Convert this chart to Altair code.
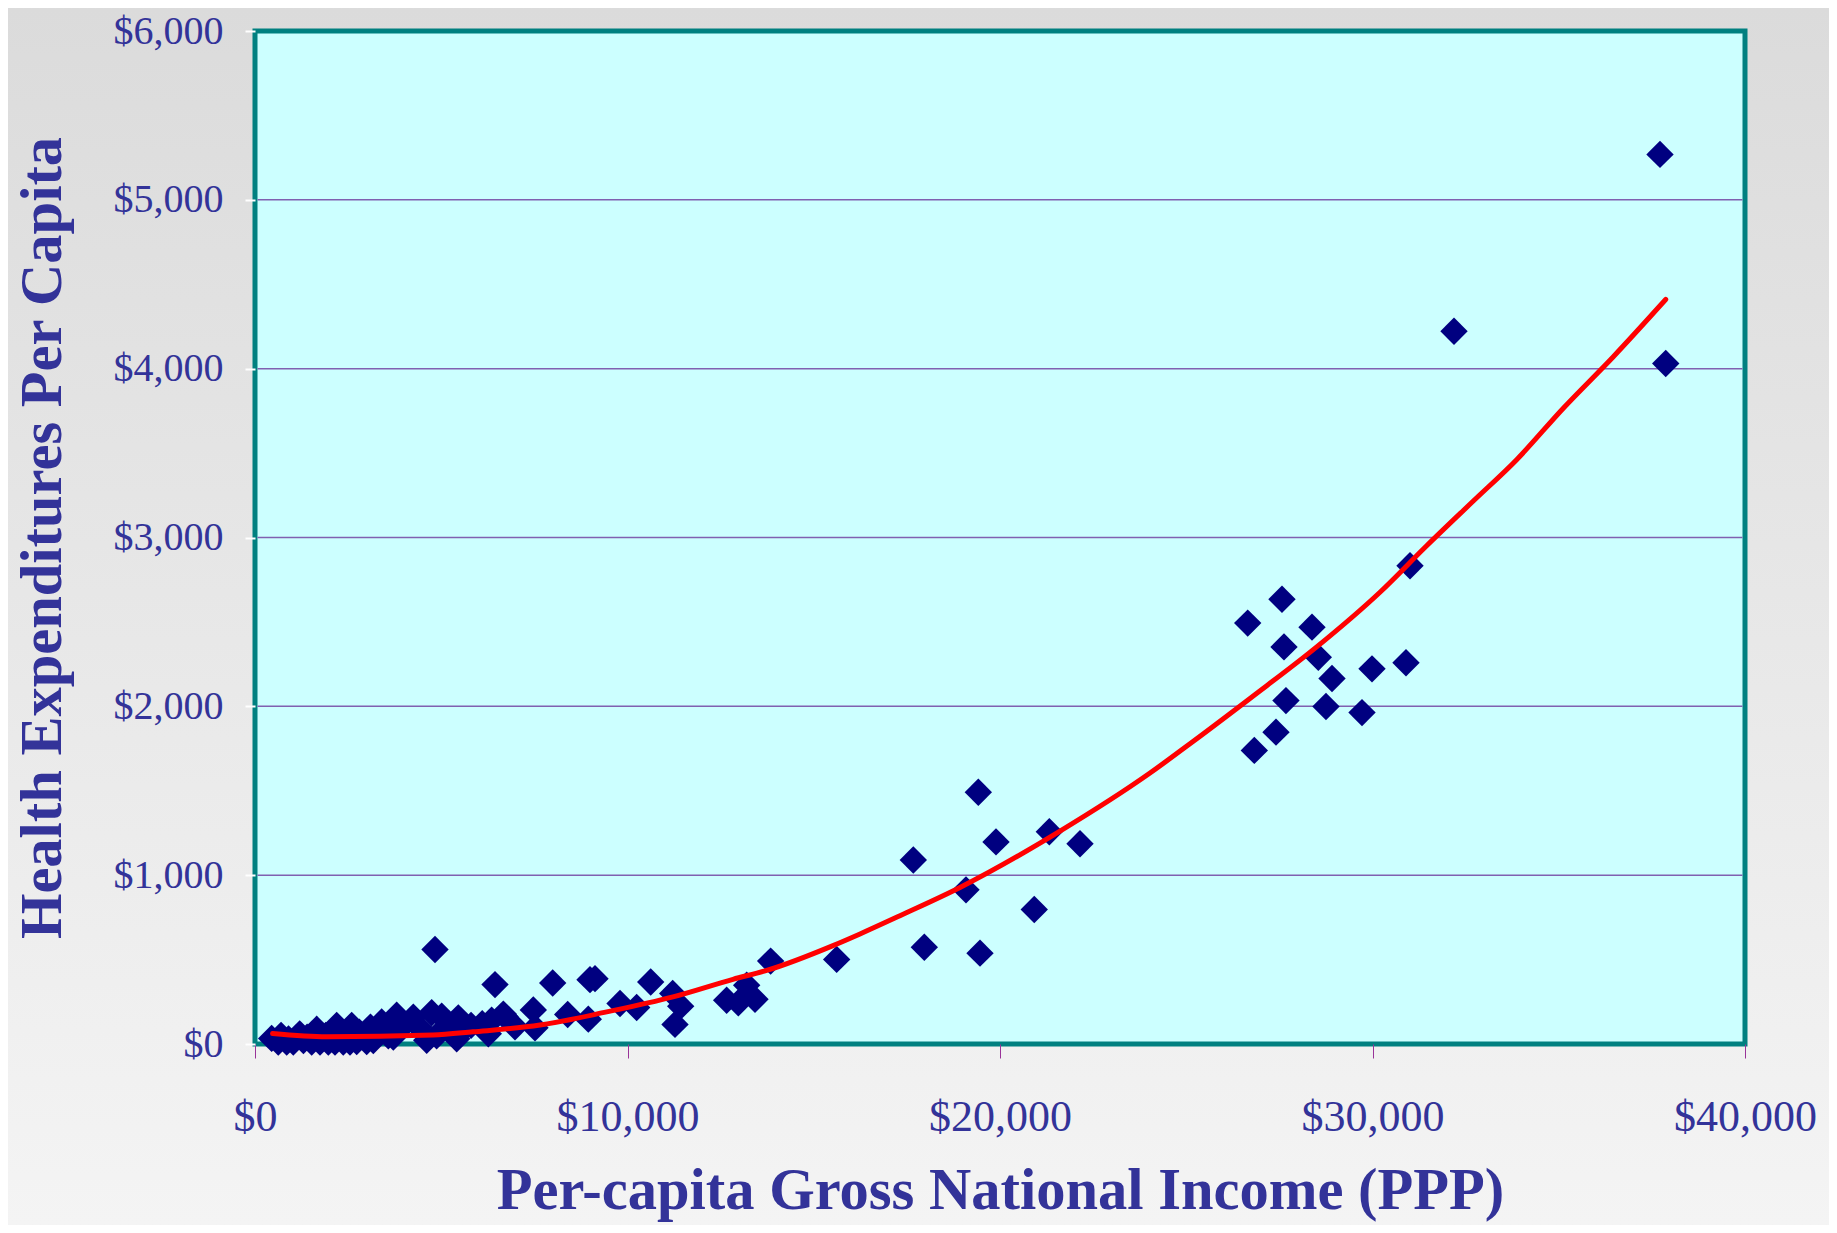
import altair as alt
import pandas as pd

# ---- data ----
gni = [447, 625, 700, 851, 900, 1028, 1200, 1300, 1400, 1522, 1656, 1745, 1900, 1968, 2148, 2193, 2370, 2400,
       2550, 2596, 2730, 2800, 2998, 3100, 3176, 3300, 3400, 3579, 3713, 3803, 3900, 4000, 4250, 4400, 4610,
       4743, 4832, 4876, 5012, 5200, 5415, 5458, 5600, 5800, 6100, 6264, 6353, 6443, 6666, 6711, 6980, 7472,
       7517, 7992, 8394, 8948, 8993, 9128, 9799, 10246, 10623, 11213, 11275, 11428, 12662, 12975, 13199,
       13423, 13843, 15615, 17673, 17968, 19087, 19418, 19463, 19893, 20920, 21324, 22148, 26650, 26827,
       27409, 27570, 27624, 27677, 28376, 28545, 28751, 28913, 29718, 29987, 30899, 31007, 32188, 37718,
       37872]
health = [33, 12, 50, 12, 30, 12, 60, 20, 40, 12, 87, 12, 50, 12, 12, 110, 12, 60,
          12, 110, 15, 70, 15, 100, 20, 80, 130, 49, 41, 171, 90, 120, 159, 100, 22,
          185, 560, 49, 165, 120, 31, 155, 90, 110, 120, 61, 141, 352, 177, 163, 102, 202,
          96, 361, 175, 147, 381, 387, 240, 216, 367, 299, 116, 224, 259, 244, 348,
          265, 491, 501, 1090, 573, 913, 1491, 538, 1197, 797, 1257, 1186, 2493, 1739,
          1847, 2634, 2352, 2034, 2469, 2291, 1999, 2165, 1963, 2222, 2258, 2833, 4222, 5269,
          4031]

trend_x = [472, 1925, 4779, 5852, 7651, 9442, 11221, 12832, 13737, 15517, 16242, 17315, 18926, 21611,
           24027, 25181, 26711, 28502, 30201, 31454, 32706, 33870, 35122, 36465, 37872]
trend_y = [62, 43, 53, 72, 112, 190, 279, 383, 436, 583, 652, 760, 927, 1261,
           1605, 1792, 2047, 2352, 2676, 2951, 3216, 3461, 3766, 4071, 4410]

y_ticks = [0, 1000, 2000, 3000, 4000, 5000, 6000]
x_ticks = [0, 10000, 20000, 30000, 40000]
grid_values = [1000, 2000, 3000, 4000, 5000]

x_title = "Per-capita Gross National Income (PPP)"
y_title = "Health Expenditures Per Capita"

W, H = 1490, 1013
PAD = {"left": 247, "top": 23, "right": 84, "bottom": 181}
FONT = "Liberation Serif"
TXT = "#333399"

pts = pd.DataFrame({"gni": gni, "health": health})
trend = pd.DataFrame({"gni": trend_x, "health": trend_y})
grid = pd.DataFrame({"v": grid_values})
one = alt.Data(values=[{"a": 1}])

xscale = alt.Scale(domain=[0, 40000], nice=False, zero=True)
yscale = alt.Scale(domain=[0, 6000], nice=False, zero=True)

x_axis = alt.Axis(values=x_ticks, format="$,.0f", title=x_title, grid=False, domain=False,
                  tickColor="#993399", tickSize=14, tickWidth=1,
                  labelFont=FONT, labelFontSize=44, labelColor=TXT, labelPadding=37,
                  labelBaseline="top", labelFlush=False,
                  titleFont=FONT, titleFontSize=58.5, titleFontWeight="bold", titleColor=TXT,
                  titleX=W / 2, titleY=164, titleBaseline="alphabetic", titleAlign="center",
                  zindex=2)
y_axis = alt.Axis(values=y_ticks, format="$,.0f", title=y_title, grid=False, domain=False,
                  tickColor="#ffffff", tickSize=10, tickWidth=2,
                  labelFont=FONT, labelFontSize=40, labelColor=TXT, labelPadding=22,
                  labelBaseline="middle", labelFlush=False,
                  titleFont=FONT, titleFontSize=58.5, titleFontWeight="bold", titleColor=TXT,
                  titleAngle=270, titleX=-195, titleY=H / 2, titleBaseline="alphabetic",
                  titleAlign="center", zindex=2)

bg = alt.Chart(one).mark_rect(
    fill=alt.LinearGradient(gradient="linear",
                            stops=[alt.GradientStop(color="#dbdbdb", offset=0),
                                   alt.GradientStop(color="#f4f4f4", offset=1)],
                            x1=0, x2=0, y1=0, y2=1),
    clip=False,
).encode(x=alt.value(-PAD["left"]), x2=alt.value(W + PAD["right"]),
         y=alt.value(-PAD["top"]), y2=alt.value(H + PAD["bottom"]))

plotbg = alt.Chart(one).mark_rect(fill="#CCFFFF", stroke="#008080", strokeWidth=5).encode(
    x=alt.value(0), x2=alt.value(W), y=alt.value(0), y2=alt.value(H))

scatter = alt.Chart(pts).mark_point(
    shape="diamond", filled=True, size=750, color="#000080", opacity=1, strokeWidth=0, clip=False
).encode(
    x=alt.X("gni:Q", scale=xscale, axis=x_axis),
    y=alt.Y("health:Q", scale=yscale, axis=y_axis),
)

gridlines = alt.Chart(grid).mark_rule(color="#8060b0", strokeWidth=1.5).encode(
    y=alt.Y("v:Q", scale=yscale, axis=y_axis),
    x=alt.value(2.5), x2=alt.value(W - 2.5))

line = alt.Chart(trend).mark_line(color="#ff0000", strokeWidth=5, strokeCap="round",
                                  strokeJoin="round", interpolate="monotone").encode(
    x=alt.X("gni:Q", scale=xscale, axis=x_axis),
    y=alt.Y("health:Q", scale=yscale, axis=y_axis),
)

chart = alt.layer(bg, plotbg, gridlines, scatter, line).properties(
    width=W, height=H, padding=PAD, autosize="none", background="#e8e8e8"
).configure_view(stroke=None)

chart.save("out.html", embed_options={"renderer": "svg", "actions": False})
